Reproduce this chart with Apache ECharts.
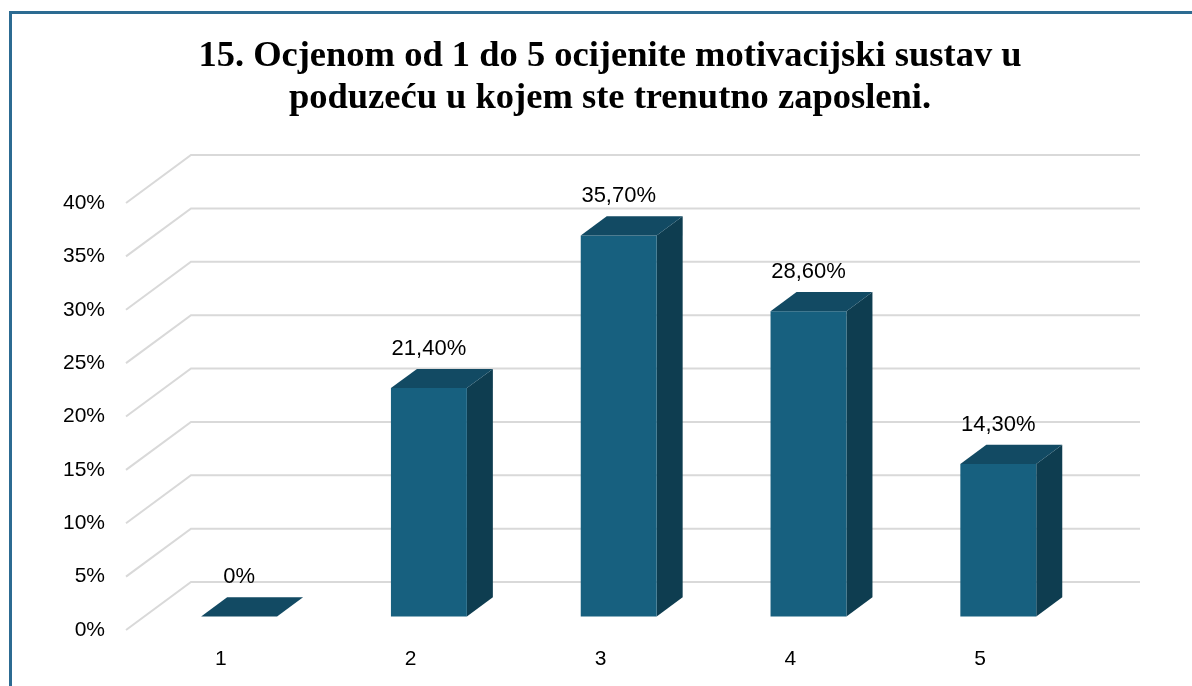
<!DOCTYPE html>
<html>
<head>
<meta charset="utf-8">
<script src="https://cdn.jsdelivr.net/npm/echarts@6/dist/echarts.min.js"></script>
<style>
	html, body { margin: 0; padding: 0; background: #fff; }
	#chart { width: 1192px; height: 686px; }
</style>
</head>
<body>
<div id="chart"></div>
<script>
	var titleText = '15. Ocjenom od 1 do 5 ocijenite motivacijski sustav u\npoduzeću u kojem ste trenutno zaposleni.';
	var categories = ['1', '2', '3', '4', '5'];
	var values = [0, 21.4, 35.7, 28.6, 14.3];
	var yTicks = [0, 5, 10, 15, 20, 25, 30, 35, 40];

	// 3d look: depth vector of the floor, bar sits between FRONT and FRONT+BAR_DEPTH
	var DX = 65, DY = -48;
	var FRONT = 0.28, BAR_DEPTH = 0.4;

	function fmt(v) {
		return v === 0 ? '0%' : v.toFixed(2).replace('.', ',') + '%';
	}

	var option = {
		backgroundColor: '#fff',
		animation: false,
		title: {
			text: titleText,
			left: 605,
			top: 31,
			textAlign: 'center',
			textStyle: {
				fontFamily: 'Liberation Serif',
				fontWeight: 'bold',
				fontSize: 36.5,
				lineHeight: 42,
				color: '#000'
			}
		},
		graphic: [{
			type: 'rect',
			shape: {x: 10.5, y: 12.5, width: 1300, height: 800},
			style: {fill: null, stroke: '#2c6b92', lineWidth: 3},
			silent: true
		}],
		grid: {left: 126, right: 117, top: 203, bottom: 56},
		xAxis: {
			type: 'category',
			data: categories,
			axisLine: {show: false},
			axisTick: {show: false},
			axisLabel: {margin: 19, fontSize: 21, fontFamily: 'Liberation Sans', color: '#000'}
		},
		yAxis: {
			type: 'value',
			min: 0,
			max: 40,
			interval: 5,
			splitLine: {show: false},
			axisLine: {show: false},
			axisTick: {show: false},
			axisLabel: {margin: 21, fontSize: 21, fontFamily: 'Liberation Sans', color: '#000', formatter: '{value}%'}
		},
		series: [
			{
				// gridlines: diagonal on the left wall + horizontal on the back wall
				type: 'custom',
				silent: true,
				z: 1,
				data: yTicks.map(function (t) { return [0, t]; }),
				renderItem: function (params, api) {
					var cs = params.coordSys;
					var y = api.coord([0, api.value(1)])[1];
					return {
						type: 'polyline',
						shape: {points: [[cs.x, y], [cs.x + DX, y + DY], [cs.x + cs.width + DX, y + DY]]},
						style: {stroke: '#d9d9d9', lineWidth: 2, fill: null}
					};
				}
			},
			{
				type: 'custom',
				z: 2,
				data: values.map(function (v, i) { return [i, v]; }),
				renderItem: function (params, api) {
					var i = api.value(0), v = api.value(1);
					var top = api.coord([i, v]);
					var base = api.coord([i, 0]);
					var w = api.size([1, 0])[0] * 0.4;
					var x0 = top[0] - w / 2 + FRONT * DX;
					var yt = top[1] + FRONT * DY;
					var yb = base[1] + FRONT * DY;
					var dx = BAR_DEPTH * DX, dy = BAR_DEPTH * DY;
					return {
						type: 'group',
						children: [
							{
								type: 'polygon',
								shape: {points: [[x0 + w, yt], [x0 + w + dx, yt + dy], [x0 + w + dx, yb + dy], [x0 + w, yb]]},
								style: {fill: '#0e3d50'}
							},
							{
								type: 'rect',
								shape: {x: x0, y: yt, width: w, height: yb - yt},
								style: {fill: '#17607f'}
							},
							{
								type: 'polygon',
								shape: {points: [[x0, yt], [x0 + w, yt], [x0 + w + dx, yt + dy], [x0 + dx, yt + dy]]},
								style: {fill: '#124a63'}
							},
							{
								type: 'text',
								x: x0 + w / 2,
								y: yt + dy - 9,
								style: {
									text: fmt(v),
									fontSize: 22,
									fontFamily: 'Liberation Sans',
									fill: '#000',
									align: 'center',
									verticalAlign: 'bottom'
								}
							}
						]
					};
				}
			}
		]
	};

	echarts.init(document.getElementById('chart')).setOption(option);
</script>
</body>
</html>
